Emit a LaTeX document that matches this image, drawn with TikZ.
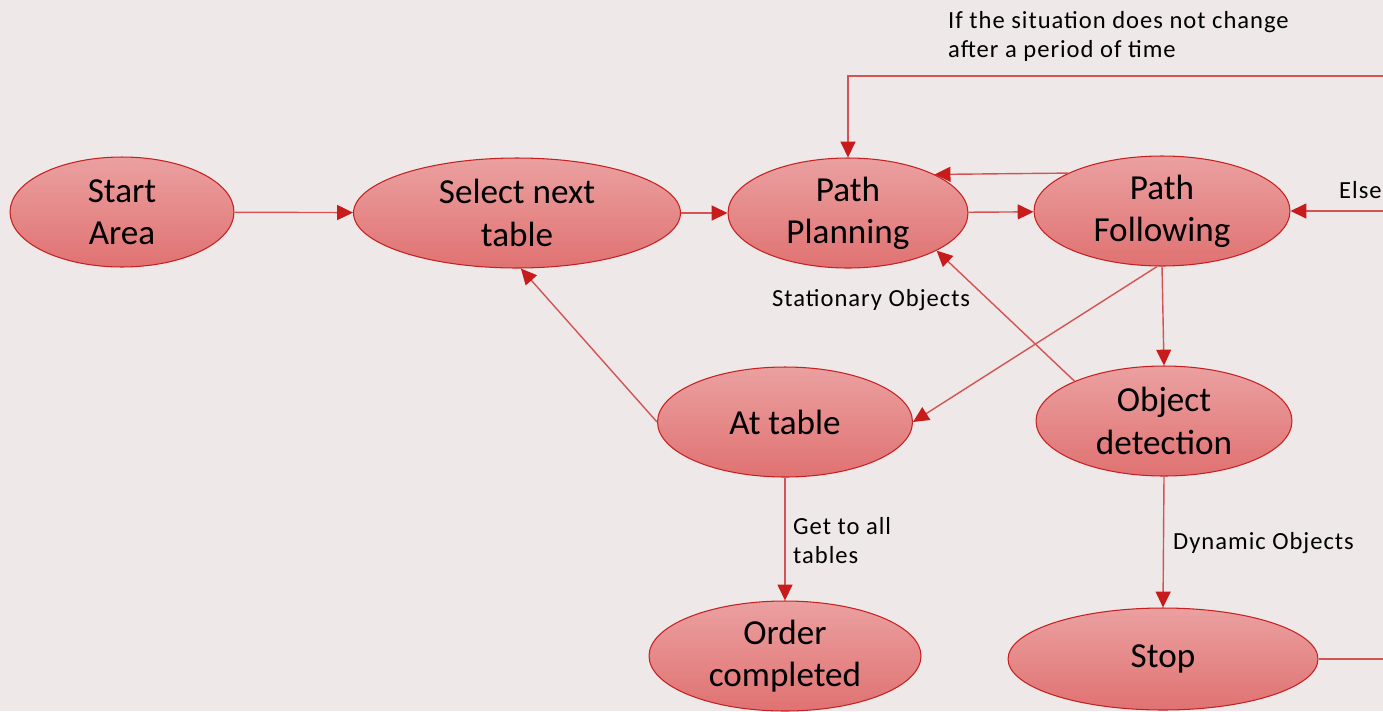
\documentclass[tikz,border=0pt]{standalone}
\usepackage{fontspec}
\setmainfont{Carlito}
\newfontfamily\labelfont[LetterSpace=4]{Carlito}
\usetikzlibrary{shapes.geometric,arrows.meta}
\definecolor{bgpaper}{RGB}{238,232,232}
\definecolor{rimred}{RGB}{200,32,32}
\definecolor{linered}{RGB}{212,84,84}
\definecolor{tipred}{RGB}{200,28,28}
\definecolor{topfill}{RGB}{235,160,160}
\definecolor{botfill}{RGB}{224,114,114}
\tikzset{
  state/.style = {ellipse, draw = rimred, line width = 0.6pt,
    top color = topfill, bottom color = botfill, inner sep = 0pt,
    minimum height = 2.2cm, align = center,
    font = \fontsize{20}{24}\selectfont},
  conn/.style = {draw = linered, line width = 0.8pt,
    -{Triangle[length = 9pt, width = 8.5pt, color = tipred]}},
  note/.style = {anchor = west, align = left,
    font = \labelfont\fontsize{14}{16.5}\selectfont}
}

\begin{document}
\begin{tikzpicture}[x = 0.02cm, y = -0.02cm]
  \fill[bgpaper] (0,0) rectangle (1383,711);
  \useasboundingbox (0,0) rectangle (1383,711);

  \begin{scope}[nodes = {state}]
    \node[minimum width = 4.48cm] (start) at (122,212) {Start\\Area};
    \node[minimum width = 6.54cm] (sel) at (517,213) {Select next\\table};
    \node[minimum width = 4.8cm] (pp) at (848,213) {Path\\Planning};
    \node[minimum width = 5.12cm] (pf) at (1162,211) {Path\\Following};
    \node[minimum width = 5.1cm] (at) at (785,422) {At table};
    \node[minimum width = 5.12cm] (od) at (1164,421) {Object\\detection};
    \node[minimum width = 5.44cm] (oc) at (785,656) {Order\\completed};
    \node[minimum width = 6.2cm, minimum height = 2.04cm] (stop) at (1163,659) {Stop};
  \end{scope}

  \coordinate (outstop) at (1390,659);
  \coordinate (outelse) at (1390,211);
  \coordinate (outtop) at (1390,76);

  \begin{scope}[conn]
    \draw (start) -- (sel);
    \draw (sel) -- (pp);
    \draw (pp) -- (pf);
    \draw (pf.158) -- (pp.24);
    \draw (pf.south) -- (od.north);
    \draw (pf.265) -- (at.east);
    \draw (od.156) -- (pp.-23);
    \draw (at.west) -- (sel.-86);
    \draw (at.south) -- (oc.north);
    \draw (od.south) -- (stop.north);
    \draw (outelse) -- (pf.east);
    \draw (outtop) -| (pp.north);
  \end{scope}
  \draw[draw = linered, line width = 0.8pt] (stop.east) -- (outstop);

  % edge labels
  \node[note] (lbltop) at (942,36) {If the situation does not change\\after a period of time};
  \node[note] (lblstat) at (766,300) {Stationary Objects};
  \node[note] (lblget) at (787,541) {Get to all\\tables};
  \node[note] (lbldyn) at (1167,543) {Dynamic Objects};
  \node[note] (lblelse) at (1333,190) {Else};
\end{tikzpicture}
\end{document}
